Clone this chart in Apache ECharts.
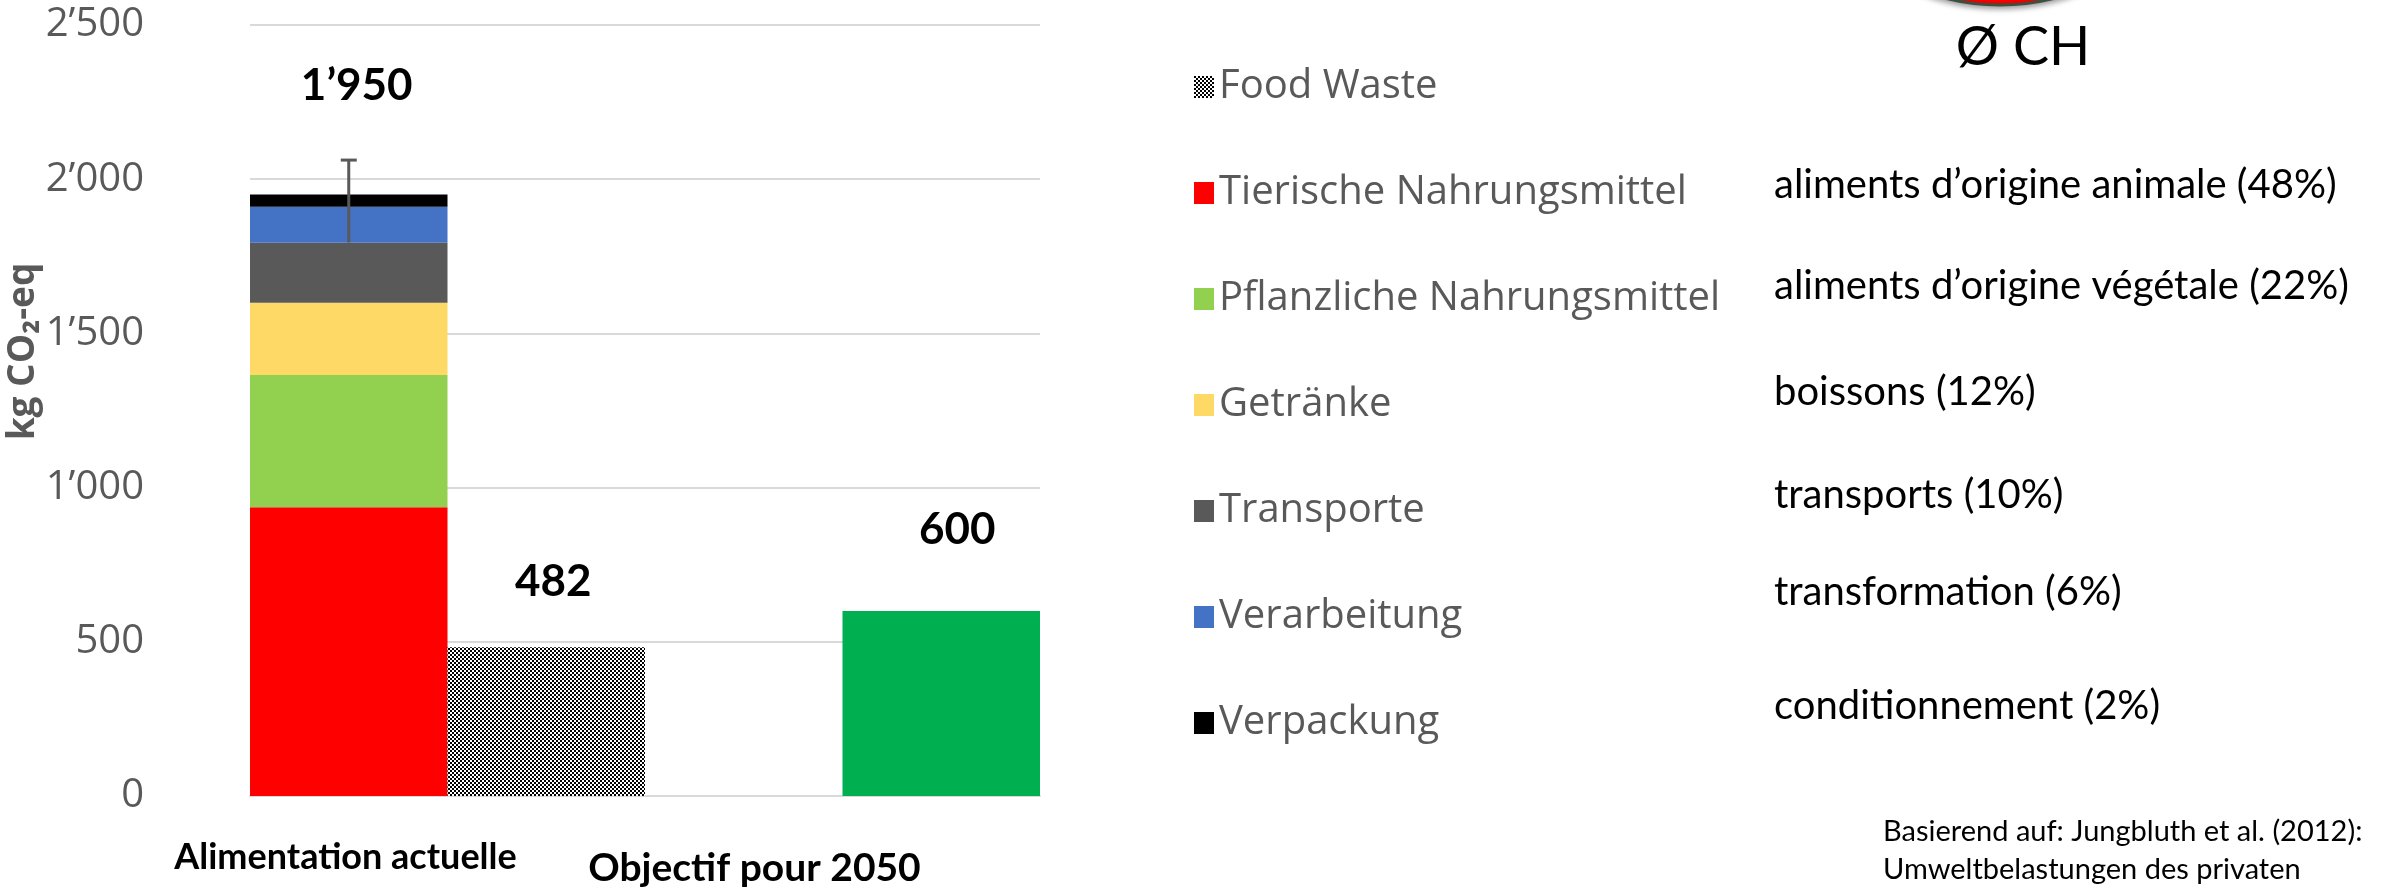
<!DOCTYPE html>
<html>
<head>
<meta charset="utf-8">
<script src="https://cdn.jsdelivr.net/npm/echarts@6/dist/echarts.min.js"></script>
<style>
  html, body { margin: 0; padding: 0; background: #fff; }
  #chart { width: 2381px; height: 889px; }
</style>
</head>
<body>
<div id="chart"></div>
<script>
// data
const categories = ['Alimentation actuelle', 'Objectif pour 2050'];
const stackNames = ['Tierische Nahrungsmittel', 'Pflanzliche Nahrungsmittel', 'Getränke', 'Transporte', 'Verarbeitung', 'Verpackung'];
const stackValues = [936, 429, 234, 195, 117, 39];
const foodWaste = [482, '-'];
const target2050 = ['-', 600];
const errorBar = [[0, 1795, 2062]];
const yTicks = [0, 500, 1000, 1500, 2000, 2500];
const frenchNames = [
  'aliments d\u2019origine animale (48%)',
  'aliments d\u2019origine végétale (22%)',
  'boissons (12%)',
  'transports (10%)',
  'transformation (6%)',
  'conditionnement (2%)'
];
const source = ['Basierend auf: Jungbluth et al. (2012):', 'Umweltbelastungen des privaten'];

const colors = ['#ff0000', '#92d050', '#ffd966', '#595959', '#4472c4', '#000000'];

function fmt(n) {
  return String(n).replace(/\B(?=(\d{3})+(?!\d))/g, '\u2019');
}

// checker pattern for food waste
const pat = document.createElement('canvas');
pat.width = 4; pat.height = 4;
const pc = pat.getContext('2d');
pc.fillStyle = '#ffffff'; pc.fillRect(0, 0, 4, 4);
pc.fillStyle = '#000000'; pc.fillRect(0, 0, 2, 2); pc.fillRect(2, 2, 2, 2);

const total = stackValues.reduce((a, b) => a + b, 0);

const myChart = echarts.init(document.getElementById('chart'));

const labelFont = { fontFamily: 'Lato', fontWeight: 'bold', fontSize: 44, color: '#000', lineHeight: 44 };

let series = stackNames.map((name, i) => ({
  name: name,
  type: 'bar',
  stack: 'a',
  barGap: 0,
  barCategoryGap: 0,
  itemStyle: { color: colors[i] },
  data: [stackValues[i], '-'],
  label: i === stackNames.length - 1 ? Object.assign({
    show: true,
    position: 'top',
    distance: 87,
    offset: [8, 0],
    formatter: () => fmt(total)
  }, labelFont) : { show: false }
}));

series.push({
  name: 'Food Waste',
  type: 'bar',
  stack: 'b',
  itemStyle: { color: { image: pat, repeat: 'repeat' } },
  data: foodWaste,
  label: Object.assign({ show: true, position: 'top', distance: 44, offset: [7, 0], formatter: p => fmt(p.value) }, labelFont)
});

series.push({
  name: 'Objectif 2050',
  type: 'bar',
  stack: 'b',
  itemStyle: { color: '#00b050' },
  data: target2050,
  label: Object.assign({ show: true, position: 'top', distance: 59, offset: [16, 0], formatter: p => fmt(p.value) }, labelFont)
});

series.push({
  type: 'custom',
  z: 10,
  silent: true,
  data: errorBar,
  encode: { x: 0, y: [1, 2] },
  renderItem: function (params, api) {
    const low = api.coord([api.value(0), api.value(1)]);
    const high = api.coord([api.value(0), api.value(2)]);
    const bw = api.size([1, 0])[0];
    const x = low[0] - bw / 4;
    const st = { stroke: '#595959', lineWidth: 3 };
    return {
      type: 'group',
      children: [
        { type: 'line', shape: { x1: x, y1: low[1], x2: x, y2: high[1] }, style: st },
        { type: 'line', shape: { x1: x - 8, y1: high[1], x2: x + 8, y2: high[1] }, style: st }
      ]
    };
  }
});

const frY = [185, 286, 392, 495, 592, 706];
let graphics = frenchNames.map((t, i) => ({
  type: 'text',
  x: 1774,
  y: frY[i],
  style: { text: t, fontFamily: 'Lato', fontSize: 40, fill: '#000', textVerticalAlign: 'middle' }
}));
graphics.push({
  type: 'circle',
  shape: { cx: 2000, cy: -218, r: 223 },
  style: { fill: '#ff0000', stroke: '#3d5040', lineWidth: 3, shadowBlur: 6, shadowColor: 'rgba(0,0,0,0.4)', shadowOffsetY: 2 }
});
graphics.push({
  type: 'text',
  x: 2023,
  y: 48,
  style: { text: '\u00d8 CH', fontFamily: 'Lato', fontSize: 54, fill: '#000', textAlign: 'center', textVerticalAlign: 'middle' }
});
graphics.push({
  type: 'text',
  x: 1883,
  y: 813,
  style: { text: source.join('\n'), fontFamily: 'Lato', fontSize: 29, lineHeight: 38, fill: '#000' }
});

const options = {
  animation: false,
  grid: { left: 250, right: 1341, top: 25, bottom: 93 },
  legend: {
    orient: 'vertical',
    left: 1189,
    top: 60,
    itemWidth: 20,
    itemHeight: 22,
    itemGap: 62,
    icon: 'rect',
    data: ['Food Waste'].concat(stackNames),
    textStyle: { fontFamily: 'Open Sans', fontSize: 40, color: '#595959', lineHeight: 44 }
  },
  xAxis: {
    type: 'category',
    data: categories,
    axisTick: { show: false },
    axisLine: { lineStyle: { color: '#d9d9d9', width: 2 } },
    axisLabel: {
      margin: 43,
      formatter: (v, i) => '{c' + i + '|' + v + '}',
      rich: {
        c0: { fontFamily: 'Lato', fontWeight: 'bold', fontSize: 36, color: '#000', padding: [0, 204, 0, 0] },
        c1: { fontFamily: 'Lato', fontWeight: 'bold', fontSize: 39, color: '#000', padding: [10, 176, 0, 0] }
      }
    }
  },
  yAxis: {
    type: 'value',
    min: yTicks[0],
    max: yTicks[yTicks.length - 1],
    interval: yTicks[1] - yTicks[0],
    name: 'kg CO\u2082-eq',
    nameLocation: 'middle',
    nameGap: 191,
    nameTextStyle: { fontFamily: 'Open Sans', fontWeight: 'bold', fontSize: 37, color: '#595959', padding: [0, 0, 0, 118] },
    axisLabel: { margin: 106, fontFamily: 'Open Sans', fontSize: 40, color: '#595959', formatter: v => fmt(v) },
    splitLine: { lineStyle: { color: '#d9d9d9', width: 2 } }
  },
  series: series,
  graphic: graphics
};

myChart.setOption(options);
</script>
</body>
</html>
